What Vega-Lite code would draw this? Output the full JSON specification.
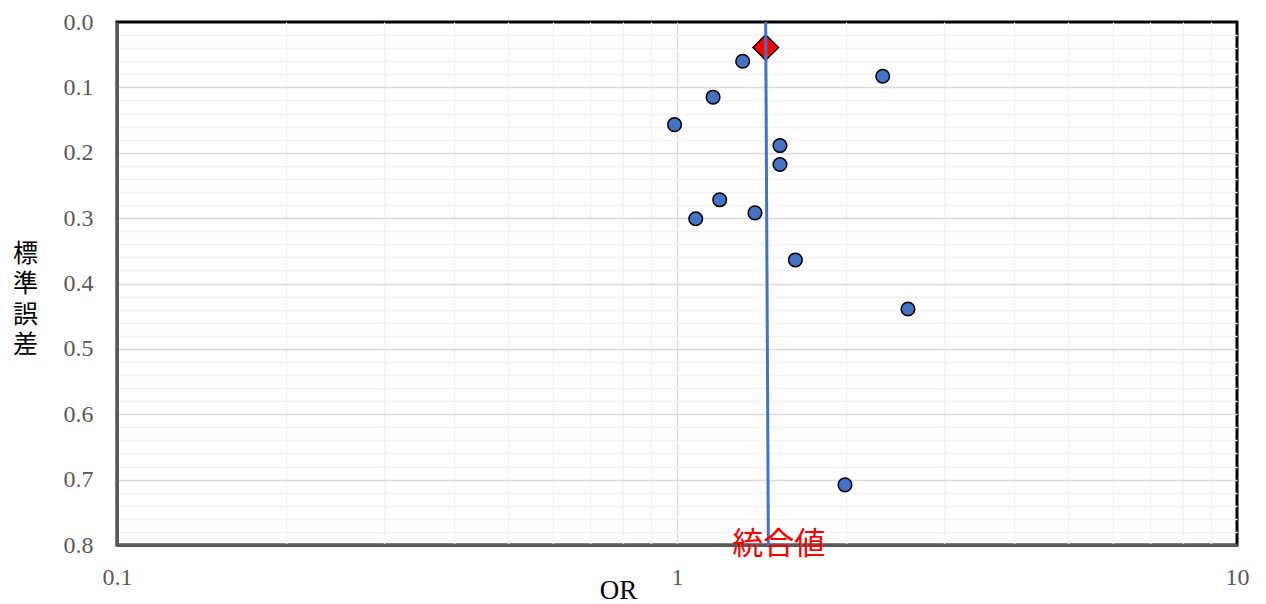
{
  "$schema": "https://vega.github.io/schema/vega-lite/v6.json",
  "autosize": "none",
  "width": 1120,
  "height": 523,
  "padding": {"left": 117, "top": 22, "right": 29, "bottom": 59},
  "background": "white",
  "config": {"view": {"stroke": "#000000", "strokeWidth": 3}},
  "datasets": {
    "studies": [
      {"or": 1.31, "se": 0.060},
      {"or": 2.33, "se": 0.083},
      {"or": 1.16, "se": 0.115},
      {"or": 0.99, "se": 0.157},
      {"or": 1.527, "se": 0.189},
      {"or": 1.527, "se": 0.218},
      {"or": 1.192, "se": 0.272},
      {"or": 1.08, "se": 0.301},
      {"or": 1.378, "se": 0.292},
      {"or": 1.627, "se": 0.364},
      {"or": 2.585, "se": 0.439},
      {"or": 1.995, "se": 0.708}
    ],
    "pooled": [{"or": 1.44, "se": 0.039}],
    "pooledLine": [{"or": 1.44, "se": 0.0}, {"or": 1.456, "se": 0.8}],
    "label": [{"or": 1.52, "se": 0.8, "text": "統合値"}]
  },
  "encoding": {
    "x": {
      "field": "or", "type": "quantitative",
      "scale": {"type": "log", "domain": [0.1, 10], "nice": false},
      "axis": {
        "values": [0.1, 0.2, 0.3, 0.4, 0.5, 0.6, 0.7, 0.8, 0.9, 1, 2, 3, 4, 5, 6, 7, 8, 9, 10],
        "labelExpr": "datum.value==0.1?'0.1':datum.value==1?'1':datum.value==10?'10':''",
        "gridColor": {"condition": {"test": "datum.value==1", "value": "#D9D9D9"}, "value": "#F2F2F2"},
        "gridOpacity": {"condition": {"test": "datum.value==0.1 || datum.value==10", "value": 0}, "value": 1},
        "gridWidth": 1.3,
        "ticks": false,
        "labelFlush": false,
        "labelOverlap": false,
        "labelPadding": 20,
        "labelFont": "Liberation Serif",
        "labelFontSize": 24,
        "labelColor": "#595959",
        "domainColor": "#595959",
        "domainWidth": 3,
        "title": "OR",
        "titleFont": "Liberation Serif",
        "titleFontSize": 27,
        "titleFontWeight": "normal",
        "titleColor": "#000000",
        "titleX": 501,
        "titleY": 45,
        "titleAlign": "center",
        "titleBaseline": "middle"
      }
    },
    "y": {
      "field": "se", "type": "quantitative",
      "scale": {"domain": [0, 0.8], "reverse": true, "nice": false, "zero": false},
      "axis": {
        "values": [0, 0.02, 0.04, 0.06, 0.08, 0.1, 0.12, 0.14, 0.16, 0.18, 0.2, 0.22, 0.24, 0.26, 0.28, 0.3, 0.32, 0.34, 0.36, 0.38, 0.4, 0.42, 0.44, 0.46, 0.48, 0.5, 0.52, 0.54, 0.56, 0.58, 0.6, 0.62, 0.64, 0.66, 0.68, 0.7, 0.72, 0.74, 0.76, 0.78, 0.8],
        "labelExpr": "abs(datum.value*10-round(datum.value*10))<0.001 ? format(datum.value,'.1f') : ''",
        "gridColor": {"condition": {"test": "abs(datum.value*10-round(datum.value*10))<0.001", "value": "#D9D9D9"}, "value": "#F2F2F2"},
        "gridOpacity": {"condition": {"test": "datum.value==0 || datum.value==0.8", "value": 0}, "value": 1},
        "gridWidth": 1.3,
        "ticks": false,
        "labelFlush": false,
        "labelOverlap": false,
        "labelPadding": 24,
        "labelFont": "Liberation Serif",
        "labelFontSize": 24,
        "labelColor": "#595959",
        "labelBaseline": "middle",
        "domainColor": "#595959",
        "domainWidth": 3,
        "title": ["標", "準", "誤", "差"],
        "titleAngle": 0,
        "titleFont": "Noto Sans CJK JP",
        "titleFontSize": 25,
        "titleFontWeight": "normal",
        "titleColor": "#000000",
        "titleX": -92,
        "titleY": 231,
        "titleAlign": "center",
        "titleBaseline": "middle",
        "titleLineHeight": 30.5
      }
    }
  },
  "layer": [
    {
      "data": {"name": "studies"},
      "mark": {"type": "point", "shape": "circle", "filled": true, "size": 185, "fill": "#4472C4", "stroke": "#000000", "strokeWidth": 1.5, "opacity": 1}
    },
    {
      "data": {"name": "pooled"},
      "mark": {"type": "point", "shape": "diamond", "filled": true, "size": 650, "fill": "#FF0000", "stroke": "#000000", "strokeWidth": 1.5, "opacity": 1}
    },
    {
      "data": {"name": "pooledLine"},
      "mark": {"type": "line", "color": "#4472C4", "strokeWidth": 3}
    },
    {
      "data": {"name": "label"},
      "mark": {"type": "text", "font": "Noto Sans CJK JP", "fontSize": 31, "color": "#FF0000", "align": "center", "baseline": "middle"},
      "encoding": {"text": {"field": "text", "type": "nominal"}}
    }
  ]
}
